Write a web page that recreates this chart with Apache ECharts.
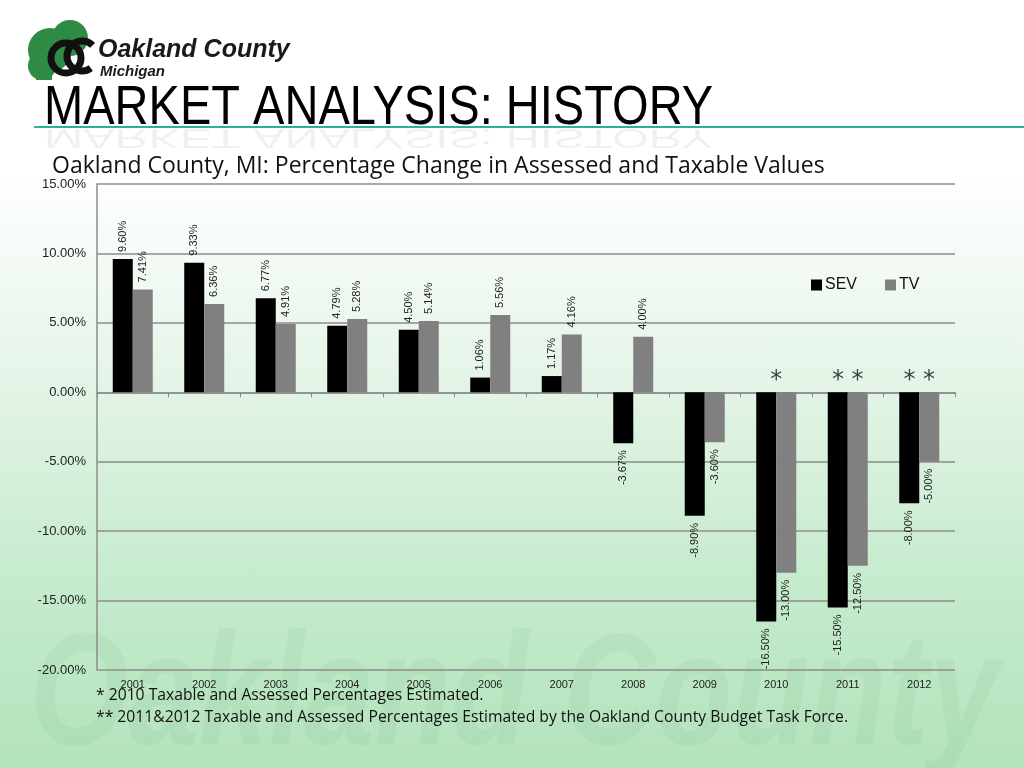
<!DOCTYPE html>
<html>
<head>
<meta charset="utf-8">
<title>Market Analysis: History</title>
<script src="https://cdn.jsdelivr.net/npm/echarts@6/dist/echarts.min.js"></script>
<style>
  html, body { margin: 0; padding: 0; }
  body {
    width: 1024px; height: 768px; overflow: hidden;
    background: linear-gradient(to bottom, #ffffff 0%, #ffffff 22%, #e6f5e9 48%, #c6ebcd 75%, #b3e3bc 100%);
  }
  #chart { width: 1024px; height: 768px; }
</style>
</head>
<body>
<div id="chart"></div>
<script>
// 数据
const years = ['2001', '2002', '2003', '2004', '2005', '2006', '2007', '2008', '2009', '2010', '2011', '2012']
const sev = [9.60, 9.33, 6.77, 4.79, 4.50, 1.06, 1.17, -3.67, -8.90, -16.50, -15.50, -8.00]
const tv = [7.41, 6.36, 4.91, 5.28, 5.14, 5.56, 4.16, 4.00, -3.60, -13.00, -12.50, -5.00]
const yTicks = [-20, -15, -10, -5, 0, 5, 10, 15]
const noteYears = ['2010', '2011', '2012']
const noteMarks = ['*', '**', '**']

const labelFont = '"Liberation Sans", Arial, sans-serif'
const textFont = '"Open Sans", "Liberation Sans", sans-serif'

// 正值标签放在柱顶上方，负值放在柱底下方
function barData(values) {
  return values.map(v => ({
    value: v,
    label: v >= 0
      ? { position: 'top', align: 'left' }
      : { position: 'bottom', align: 'right' }
  }))
}

const barLabel = {
  show: true,
  rotate: 90,
  verticalAlign: 'middle',
  distance: 7,
  fontSize: 11,
  color: '#222',
  formatter: p => p.value.toFixed(2) + '%'
}

const myChart = echarts.init(document.getElementById('chart'))

myChart.setOption({
  animation: false,
  textStyle: { fontFamily: labelFont },
  grid: { left: 97, right: 69, top: 184, bottom: 98 },
  legend: {
    data: ['SEV', 'TV'],
    left: 806,
    top: 272,
    itemWidth: 11,
    itemHeight: 11,
    itemGap: 28,
    icon: 'rect',
    textStyle: { fontSize: 16, color: '#111', fontFamily: labelFont, padding: [0, 0, 0, -2] }
  },
  xAxis: [
    {
      type: 'category',
      data: years,
      position: 'bottom',
      axisLine: { show: false, onZero: false },
      axisTick: { show: false },
      axisLabel: { fontSize: 11, color: '#222', margin: 9 }
    },
    {
      type: 'category',
      data: years,
      position: 'bottom',
      axisLine: { show: true, onZero: true, lineStyle: { color: '#8c8c8c', width: 1.5 } },
      axisTick: { show: true, length: 5, lineStyle: { color: '#8c8c8c' } },
      axisLabel: { show: false }
    }
  ],
  yAxis: {
    type: 'value',
    min: yTicks[0],
    max: yTicks[yTicks.length - 1],
    interval: 5,
    axisLine: { show: true, lineStyle: { color: '#8c8c8c', width: 1.5 } },
    axisTick: { show: false },
    splitLine: { lineStyle: { color: '#8c8c8c', width: 1.5 } },
    axisLabel: {
      fontSize: 13,
      color: '#222',
      margin: 11,
      formatter: v => v.toFixed(2) + '%'
    }
  },
  series: [
    {
      name: 'SEV',
      type: 'bar',
      xAxisIndex: 0,
      data: barData(sev),
      barWidth: 20,
      barGap: '0%',
      itemStyle: { color: '#000000' },
      label: barLabel
    },
    {
      name: 'TV',
      type: 'bar',
      xAxisIndex: 0,
      data: barData(tv),
      barWidth: 20,
      barGap: '0%',
      itemStyle: { color: '#808080' },
      label: barLabel
    },
    {
      // 估算年份的星号
      name: 'notes',
      type: 'scatter',
      xAxisIndex: 0,
      symbolSize: 0,
      data: noteYears.map(y => [y, 0]),
      label: {
        show: true,
        position: 'top',
        distance: 0,
        fontSize: 24,
        color: '#111',
        fontFamily: '"DejaVu Sans", sans-serif',
        formatter: p => noteMarks[p.dataIndex].split('').join(' ')
      }
    }
  ],
  graphic: [
    // 背景水印
    {
      type: 'text', z: -10, left: 30, top: 620, scaleX: 0.79,
      style: {
        text: 'Oakland County',
        font: 'italic bold 160px "Liberation Sans", Arial, sans-serif',
        fill: 'rgba(40,110,60,0.05)'
      }
    },
    // 标志：树
    { type: 'circle', shape: { cx: 50, cy: 50, r: 22 }, style: { fill: '#2f8a46' } },
    { type: 'circle', shape: { cx: 70, cy: 38, r: 18 }, style: { fill: '#2f8a46' } },
    { type: 'circle', shape: { cx: 42, cy: 66, r: 14 }, style: { fill: '#2f8a46' } },
    { type: 'rect', shape: { x: 36, y: 62, width: 16, height: 18 }, style: { fill: '#2f8a46' } },
    // 标志：OC
    { type: 'arc', shape: { cx: 66, cy: 58, r: 15, startAngle: 0, endAngle: Math.PI * 2 }, style: { stroke: '#111', lineWidth: 7, fill: 'none' } },
    { type: 'arc', shape: { cx: 82, cy: 56, r: 15, startAngle: Math.PI * 0.3, endAngle: Math.PI * 1.75 }, style: { stroke: '#111', lineWidth: 7, fill: 'none' } },
    {
      type: 'text', left: 98, top: 38,
      style: { text: 'Oakland County', font: 'italic bold 25px "Liberation Sans", Arial, sans-serif', fill: '#1a1a1a' }
    },
    {
      type: 'text', left: 100, top: 64,
      style: { text: 'Michigan', font: 'italic bold 15px "Liberation Sans", Arial, sans-serif', fill: '#1a1a1a' }
    },
    // 标题及倒影
    {
      type: 'text', x: 44, y: 137, scaleX: 0.84,
      style: { text: 'MARKET ANALYSIS: HISTORY', font: '56px "Liberation Sans", Arial, sans-serif', fill: '#000', textVerticalAlign: 'bottom' }
    },
    {
      type: 'text', x: 44, y: 123, scaleX: 0.84, scaleY: -0.5,
      style: { text: 'MARKET ANALYSIS: HISTORY', font: '56px "Liberation Sans", Arial, sans-serif', fill: 'rgba(0,0,0,0.06)', textVerticalAlign: 'bottom' }
    },
    {
      type: 'rect', shape: { x: 34, y: 126, width: 990, height: 2 }, style: { fill: '#2bb39a' }
    },
    {
      type: 'text', left: 52, top: 155,
      style: { text: 'Oakland County, MI: Percentage Change in Assessed and Taxable Values', font: '23px ' + textFont, fill: '#111' }
    },
    // 脚注
    {
      type: 'text', left: 96, top: 688,
      style: { text: '* 2010 Taxable and Assessed Percentages Estimated.', font: '15.7px ' + textFont, fill: '#111' }
    },
    {
      type: 'text', left: 96, top: 710,
      style: { text: '** 2011&2012 Taxable and Assessed Percentages Estimated by the Oakland County Budget Task Force.', font: '15.7px ' + textFont, fill: '#111' }
    }
  ]
})
</script>
</body>
</html>
